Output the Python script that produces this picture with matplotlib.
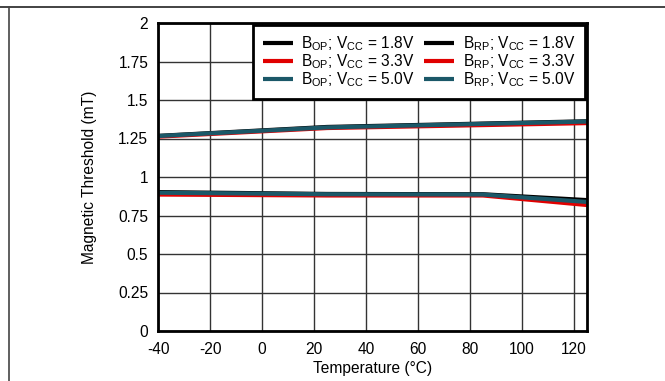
import matplotlib
matplotlib.use("Agg")
import matplotlib.pyplot as plt
from matplotlib.lines import Line2D

plt.rcParams['font.family'] = ['Liberation Sans', 'DejaVu Sans']
plt.rcParams['mathtext.fontset'] = 'custom'
plt.rcParams['mathtext.rm'] = 'Liberation Sans'
plt.rcParams['mathtext.it'] = 'Liberation Sans'
plt.rcParams['mathtext.default'] = 'regular'

temps = [-40, 25, 85, 125]
bop_18 = [1.267, 1.325, 1.347, 1.362]
bop_33 = [1.262, 1.318, 1.337, 1.350]
bop_50 = [1.266, 1.322, 1.345, 1.360]
brp_18 = [0.902, 0.890, 0.888, 0.850]
brp_33 = [0.886, 0.880, 0.880, 0.818]
brp_50 = [0.898, 0.888, 0.886, 0.838]

x_ticks = [-40, -20, 0, 20, 40, 60, 80, 100, 120]
y_ticks = [0, 0.25, 0.5, 0.75, 1, 1.25, 1.5, 1.75, 2]
y_tick_labels = ['0', '0.25', '0.5', '0.75', '1', '1.25', '1.5', '1.75', '2']

c_black = '#000000'
c_red = '#E00000'
c_teal = '#1B5868'

fs = 11.2

fig = plt.figure(figsize=(6.65, 3.81), dpi=100)
ax = fig.add_axes([158/665, 50/381, 429/665, 308/381])

lw = 3
l1, = ax.plot(temps, bop_18, color=c_black, lw=lw, solid_capstyle='butt')
l4, = ax.plot(temps, brp_18, color=c_black, lw=lw, solid_capstyle='butt')
l2, = ax.plot(temps, bop_33, color=c_red, lw=lw, solid_capstyle='butt')
l5, = ax.plot(temps, brp_33, color=c_red, lw=lw, solid_capstyle='butt')
l3, = ax.plot(temps, bop_50, color=c_teal, lw=lw, solid_capstyle='butt')
l6, = ax.plot(temps, brp_50, color=c_teal, lw=lw, solid_capstyle='butt')

ax.set_xlim(-40, 125)
ax.set_ylim(0, 2)
ax.set_xticks(x_ticks)
ax.set_xticklabels([str(t) for t in x_ticks])
ax.set_yticks(y_ticks)
ax.set_yticklabels(y_tick_labels)
ax.tick_params(axis='x', length=0, labelsize=fs, pad=8)
ax.tick_params(axis='y', length=0, labelsize=fs, pad=7)
ax.grid(True, color='#333333', lw=1)
ax.set_axisbelow(True)
for s in ax.spines.values():
    s.set_linewidth(2)
    s.set_color('black')

ax.set_xlabel('Temperature (°C)', fontsize=fs, labelpad=3)
ax.set_ylabel('Magnetic Threshold (mT)', fontsize=fs, labelpad=15)

labels = [r'B$_{OP}$; V$_{CC}$ = 1.8V', r'B$_{OP}$; V$_{CC}$ = 3.3V', r'B$_{OP}$; V$_{CC}$ = 5.0V',
          r'B$_{RP}$; V$_{CC}$ = 1.8V', r'B$_{RP}$; V$_{CC}$ = 3.3V', r'B$_{RP}$; V$_{CC}$ = 5.0V']
leg = ax.legend([l1, l2, l3, l4, l5, l6], labels, ncol=2, loc='upper right',
                fontsize=fs, frameon=True, fancybox=False, borderaxespad=0.1,
                handlelength=1.9, handletextpad=0.55, columnspacing=0.65,
                labelspacing=-0.05, borderpad=0.65)
leg.get_frame().set_edgecolor('black')
leg.get_frame().set_linewidth(2)
leg.get_frame().set_alpha(1)

# figure border lines
fig.add_artist(Line2D([0, 1], [1 - 7/381, 1 - 7/381], transform=fig.transFigure, color='#222222', lw=1.2))
fig.add_artist(Line2D([9/665, 9/665], [0, 1 - 7/381], transform=fig.transFigure, color='#444444', lw=1.2))

fig.savefig('out.png', dpi=100)
